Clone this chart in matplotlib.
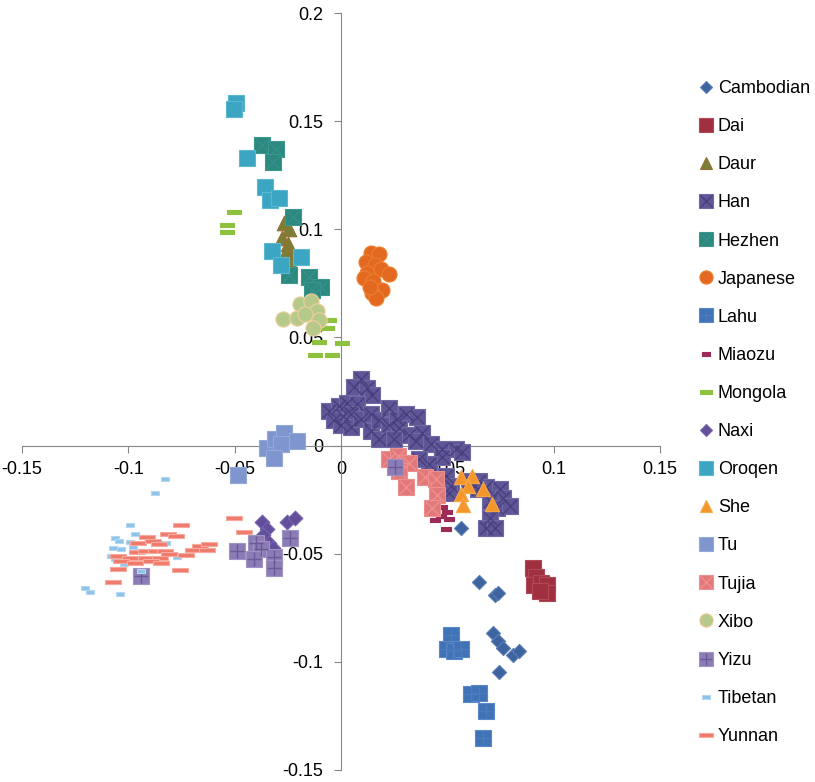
import matplotlib
matplotlib.use('Agg')
import matplotlib.pyplot as plt
from matplotlib.lines import Line2D

plt.rcParams['font.family'] = ['Liberation Sans', 'DejaVu Sans']

# coordinates (PC1, PC2)
cambodian_x = [0.0566, 0.0651, 0.0722, 0.0736, 0.0713, 0.0736, 0.0760, 0.0807, 0.0835, 0.0741]
cambodian_y = [-0.0380, -0.0630, -0.0690, -0.0681, -0.0866, -0.0903, -0.0935, -0.0968, -0.0949, -0.1046]

dai_x = [0.0902, 0.0916, 0.0906, 0.0939, 0.0968, 0.0968, 0.0935]
dai_y = [-0.0565, -0.0607, -0.0644, -0.0634, -0.0644, -0.0681, -0.0671]

daur_x = [-0.0269, -0.0245, -0.0278, -0.0250, -0.0260, -0.0231, -0.0241]
daur_y = [0.1028, 0.1000, 0.0958, 0.0931, 0.0894, 0.0870, 0.0847]

han_x = [0.0094, 0.0061, 0.0123, 0.0146, -0.0057, -0.0009, 0.0028, 0.0076, 0.0009, 0.0047,
         -0.0033, 0.0000, 0.0047, 0.0094, 0.0142, 0.0142, 0.0179, 0.0179, 0.0227, 0.0227,
         0.0264, 0.0307, 0.0274, 0.0321, 0.0250, 0.0359, 0.0382, 0.0354, 0.0425, 0.0477,
         0.0543, 0.0571, 0.0477, 0.0415, 0.0368, 0.0496, 0.0519, 0.0510, 0.0604, 0.0651,
         0.0684, 0.0642, 0.0746, 0.0760, 0.0699, 0.0732, 0.0793, 0.0699, 0.0684, 0.0722]
han_y = [0.0310, 0.0273, 0.0264, 0.0232, 0.0162, 0.0185, 0.0199, 0.0190, 0.0139, 0.0148,
         0.0116, 0.0097, 0.0088, 0.0125, 0.0148, 0.0069, 0.0032, 0.0116, 0.0176, 0.0093,
         0.0125, 0.0148, 0.0079, 0.0051, 0.0032, 0.0134, 0.0060, 0.0019, 0.0009, -0.0014,
         -0.0014, -0.0032, -0.0051, -0.0083, -0.0060, -0.0139, -0.0185, -0.0218, -0.0162, -0.0162,
         -0.0190, -0.0199, -0.0199, -0.0241, -0.0255, -0.0287, -0.0278, -0.0333, -0.0380, -0.0380]

hezhen_x = [-0.0373, -0.0307, -0.0321, -0.0227, -0.0245, -0.0151, -0.0094, -0.0137]
hezhen_y = [0.1389, 0.1370, 0.1310, 0.1056, 0.0787, 0.0778, 0.0732, 0.0718]

japanese_x = [0.0142, 0.0179, 0.0118, 0.0160, 0.0123, 0.0189, 0.0227, 0.0109, 0.0151, 0.0194, 0.0146, 0.0165, 0.0137]
japanese_y = [0.0889, 0.0884, 0.0847, 0.0833, 0.0796, 0.0815, 0.0792, 0.0773, 0.0759, 0.0718, 0.0704, 0.0681, 0.0732]

lahu_x = [0.0519, 0.0500, 0.0533, 0.0566, 0.0609, 0.0651, 0.0680, 0.0666]
lahu_y = [-0.0875, -0.0940, -0.0949, -0.0940, -0.1148, -0.1144, -0.1227, -0.1352]

miaozu_x = [0.0477, 0.0500, 0.0472, 0.0510, 0.0444, 0.0496]
miaozu_y = [-0.0282, -0.0306, -0.0324, -0.0338, -0.0343, -0.0384]

mongola_x = [-0.0505, -0.0538, -0.0538, -0.0156, -0.0057, -0.0066, -0.0104, 0.0005, -0.0123, -0.0042]
mongola_y = [0.1079, 0.1019, 0.0986, 0.0611, 0.0579, 0.0542, 0.0477, 0.0472, 0.0421, 0.0417]

naxi_x = [-0.0373, -0.0349, -0.0368, -0.0340, -0.0321, -0.0255, -0.0217]
naxi_y = [-0.0352, -0.0384, -0.0412, -0.0449, -0.0472, -0.0352, -0.0333]

oroqen_x = [-0.0496, -0.0505, -0.0444, -0.0359, -0.0335, -0.0293, -0.0326, -0.0283, -0.0189]
oroqen_y = [0.1583, 0.1556, 0.1329, 0.1195, 0.1134, 0.1144, 0.0898, 0.0833, 0.0870]

she_x = [0.0566, 0.0614, 0.0595, 0.0566, 0.0666, 0.0576, 0.0708]
she_y = [-0.0144, -0.0139, -0.0185, -0.0222, -0.0199, -0.0273, -0.0269]

tu_x = [-0.0486, -0.0349, -0.0312, -0.0269, -0.0283, -0.0316, -0.0208]
tu_y = [-0.0134, -0.0009, 0.0032, 0.0060, 0.0005, -0.0056, 0.0023]

tujia_x = [0.0227, 0.0269, 0.0321, 0.0307, 0.0396, 0.0448, 0.0453, 0.0430, 0.0274]
tujia_y = [-0.0060, -0.0046, -0.0079, -0.0190, -0.0144, -0.0153, -0.0227, -0.0287, -0.0116]

xibo_x = [-0.0274, -0.0208, -0.0194, -0.0142, -0.0113, -0.0104, -0.0132, -0.0170]
xibo_y = [0.0583, 0.0588, 0.0653, 0.0667, 0.0620, 0.0579, 0.0542, 0.0607]

yizu_x = [-0.0939, -0.0491, -0.0401, -0.0378, -0.0411, -0.0316, -0.0316, -0.0241, 0.0255]
yizu_y = [-0.0602, -0.0486, -0.0449, -0.0477, -0.0523, -0.0514, -0.0565, -0.0426, -0.0097]

tibetan_x = [-0.0826, -0.0873, -0.0991, -0.0968, -0.1062, -0.1043, -0.0991, -0.1071, -0.1034, -0.0977,
             -0.0821, -0.1081, -0.1062, -0.0769, -0.1020, -0.0939, -0.1204, -0.1180, -0.1038]
tibetan_y = [-0.0153, -0.0218, -0.0366, -0.0407, -0.0426, -0.0440, -0.0444, -0.0472, -0.0477, -0.0468,
             -0.0449, -0.0509, -0.0523, -0.0514, -0.0546, -0.0579, -0.0657, -0.0676, -0.0685]

yunnan_x = [-0.0750, -0.0911, -0.0812, -0.0774, -0.0953, -0.0883, -0.0854, -0.0661, -0.0623, -0.0694,
            -0.0632, -0.0958, -0.0916, -0.0868, -0.0826, -0.0807, -0.0727, -0.1048, -0.0991, -0.0916,
            -0.0850, -0.1034, -0.0968, -0.0892, -0.0845, -0.1048, -0.0755, -0.1071, -0.0505, -0.0458]
yunnan_y = [-0.0366, -0.0421, -0.0407, -0.0417, -0.0449, -0.0440, -0.0454, -0.0463, -0.0454, -0.0482,
            -0.0482, -0.0491, -0.0486, -0.0486, -0.0486, -0.0500, -0.0505, -0.0509, -0.0519, -0.0519,
            -0.0519, -0.0532, -0.0542, -0.0532, -0.0542, -0.0569, -0.0574, -0.0630, -0.0333, -0.0398]

x_ticks = [-0.15, -0.1, -0.05, 0, 0.05, 0.1, 0.15]
x_tick_labels = ['-0.15', '-0.1', '-0.05', '0', '0.05', '0.1', '0.15']
y_ticks = [-0.15, -0.1, -0.05, 0, 0.05, 0.1, 0.15, 0.2]
y_tick_labels = ['-0.15', '-0.1', '-0.05', '0', '0.05', '0.1', '0.15', '0.2']


def bar(h):
    # flat rectangle marker (Excel dash)
    return [(-1, -h), (1, -h), (1, h), (-1, h), (-1, -h)]


# name, x, y, marker, size, face, edge, overlay marker, overlay colour
series = [
    ('Cambodian', cambodian_x, cambodian_y, 'D', 52, '#3E64A0', '#5A7DB5', None, None),
    ('Dai', dai_x, dai_y, 's', 117, '#A0303F', '#B04858', None, None),
    ('Daur', daur_x, daur_y, '^', 110, '#7C7E36', '#93702E', None, None),
    ('Han', han_x, han_y, 's', 117, '#5E5696', '#7069A5', 'x', '#4A3F7E'),
    ('Hezhen', hezhen_x, hezhen_y, 's', 117, '#2D8880', '#3A988E', 'x', '#349188'),
    ('Japanese', japanese_x, japanese_y, 'o', 117, '#E2691F', '#EC8030', None, None),
    ('Lahu', lahu_x, lahu_y, 's', 117, '#4072B6', '#5A88C8', '+', '#4A7CBE'),
    ('Miaozu', miaozu_x, miaozu_y, bar(0.45), 42, '#9C2B58', '#9C2B58', None, None),
    ('Mongola', mongola_x, mongola_y, bar(0.27), 88, '#8CC23E', '#8CC23E', None, None),
    ('Naxi', naxi_x, naxi_y, 'D', 56, '#634E9C', '#7563AC', None, None),
    ('Oroqen', oroqen_x, oroqen_y, 's', 117, '#3CA5C2', '#5BB8D0', None, None),
    ('She', she_x, she_y, '^', 105, '#F3972D', '#F7A848', None, None),
    ('Tu', tu_x, tu_y, 's', 117, '#7F95CE', '#94A8D8', None, None),
    ('Tujia', tujia_x, tujia_y, 's', 117, '#E3787A', '#EC9090', 'x', '#EE9090'),
    ('Xibo', xibo_x, xibo_y, 'o', 120, '#B5C98A', '#F2CE9C', None, None),
    ('Yizu', yizu_x, yizu_y, 's', 117, '#8B7CB5', '#A092C2', '+', '#6A5A99'),
    ('Tibetan', tibetan_x, tibetan_y, bar(0.5), 33, '#8EC2E8', '#B5D8F2', None, None),
    ('Yunnan', yunnan_x, yunnan_y, bar(0.33), 117, '#EF7A6B', '#F7ABA0', None, None),
]

fig = plt.figure(figsize=(8.15, 7.82), dpi=100)
ax = fig.add_axes([22 / 815, 12 / 782, 638 / 815, 757 / 782])

handles = []
labels = []
for name, xs, ys, mk, s, fc, ec, ov, oc in series:
    ax.scatter(xs, ys, marker=mk, s=s, facecolor=fc, edgecolor=ec, linewidths=0.8, zorder=3)
    ms = s ** 0.5 * 0.88
    h = Line2D([], [], linestyle='none', marker=mk, markersize=ms,
               markerfacecolor=fc, markeredgecolor=ec, markeredgewidth=0.8)
    if ov is not None:
        ax.scatter(xs, ys, marker=ov, s=s * 0.75, c=oc, linewidths=1.0, zorder=3)
        h2 = Line2D([], [], linestyle='none', marker=ov, markersize=ms * 0.85,
                    markeredgecolor=oc, markeredgewidth=1.0)
        h = (h, h2)
    handles.append(h)
    labels.append(name)

ax.set_xlim(-0.15, 0.15)
ax.set_ylim(-0.15, 0.2)

for side in ['top', 'right']:
    ax.spines[side].set_visible(False)
ax.spines['left'].set_position(('data', 0))
ax.spines['bottom'].set_position(('data', 0))
for side in ['left', 'bottom']:
    ax.spines[side].set_color('#868686')
    ax.spines[side].set_linewidth(0.8)
ax.patch.set_visible(False)

ax.set_xticks(x_ticks)
ax.set_xticklabels(x_tick_labels)
ax.set_yticks(y_ticks)
ax.set_yticklabels(y_tick_labels)
ax.tick_params(axis='both', direction='out', length=5, width=0.8, color='#868686',
               labelsize=13)
ax.tick_params(axis='x', pad=6)
ax.tick_params(axis='y', pad=8)

fig.legend(handles, labels, loc='upper left', bbox_to_anchor=(699 / 815, 1 - 80 / 782),
           frameon=False, fontsize=13, labelspacing=1.17, handlelength=0.8,
           handletextpad=0.25, borderpad=0, borderaxespad=0)

fig.savefig('out.png', dpi=100)
